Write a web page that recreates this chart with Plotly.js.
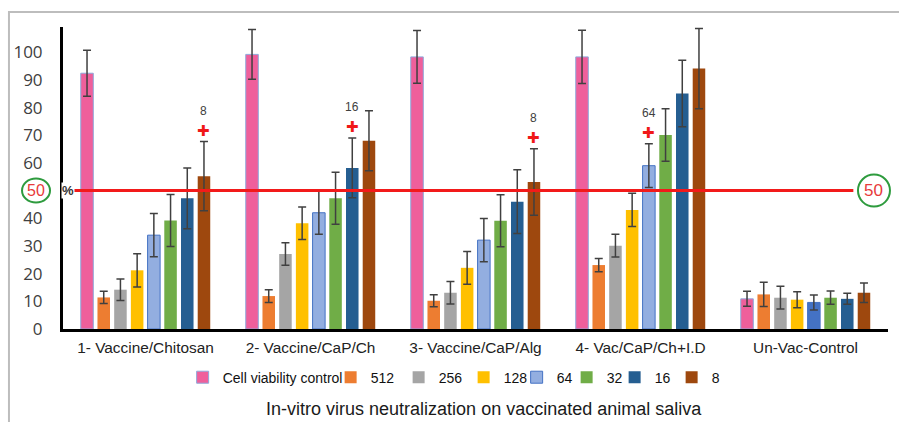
<!DOCTYPE html>
<html>
<head>
<meta charset="utf-8">
<script src="https://cdn.plot.ly/plotly-3.0.1.min.js"></script>
<style>html,body{margin:0;padding:0;background:#fff;}#chart{width:899px;height:422px;}</style>
</head>
<body>
<div id="chart"></div>
<script>
// ---- data ----
var groups = ['1- Vaccine/Chitosan', '2- Vaccine/CaP/Ch', '3- Vaccine/CaP/Alg', '4- Vac/CaP/Ch+I.D', 'Un-Vac-Control'];
var seriesNames = ['Cell viability control', '512', '256', '128', '64', '32', '16', '8'];

var cellViability = [92.4, 99.2, 98.3, 98.3, 10.9];
var cellViabilityErr = [8.3, 9.0, 9.5, 9.6, 2.7];
var dil512 = [11.4, 11.9, 10.2, 23.1, 12.5];
var dil512Err = [2.2, 2.3, 2.2, 2.4, 4.4];
var dil256 = [14.2, 27.1, 13.1, 30.1, 11.3];
var dil256Err = [3.9, 4.1, 4.1, 4.1, 4.1];
var dil128 = [21.2, 38.2, 22.1, 43.0, 10.6];
var dil128Err = [6.0, 5.9, 5.9, 6.0, 2.9];
var dil64 = [33.9, 42.0, 32.1, 59.0, 9.6];
var dil64Err = [7.8, 7.8, 7.8, 7.9, 2.7];
var dil32 = [39.2, 47.2, 39.1, 70.1, 11.3];
var dil32Err = [9.4, 9.4, 9.4, 9.5, 2.4];
var dil16 = [47.2, 58.2, 46.0, 85.1, 10.9];
var dil16Err = [11.0, 10.8, 11.5, 12.0, 2.0];
var dil8 = [55.2, 68.0, 53.1, 94.1, 13.1];
var dil8Err = [12.5, 10.8, 12.0, 14.5, 3.5];

// 50% end-point markers: group index, series index, label
var markGroup = [0, 1, 2, 3];
var markSeries = [7, 6, 7, 4];
var markLabel = ['8', '16', '8', '64'];

var cutoff = 50;
// y tick labels (50 is replaced by the circled cut-off label)
var yTicks = [0, 10, 20, 30, 40, 60, 70, 80, 90, 100];

// ---- style ----
var values = [cellViability, dil512, dil256, dil128, dil64, dil32, dil16, dil8];
var errs = [cellViabilityErr, dil512Err, dil256Err, dil128Err, dil64Err, dil32Err, dil16Err, dil8Err];
var colors = ['#EF5F9B', '#ED7D31', '#A5A5A5', '#FFC000', ['#93AEE0', '#93AEE0', '#93AEE0', '#93AEE0', '#4472C4'], '#70AD47', '#255E91', '#9E480E'];
var lineColors = ['#8EA9DB', null, null, null, '#4472C4', null, null, null];
var legendWidths = [103, 23, 20, 8, 5, 3, 12, 10];
var sans = '"Liberation Sans", Arial, sans-serif';
var bargap = 0.19;

var traces = seriesNames.map(function (name, i) {
  return {
    type: 'bar',
    name: name,
    x: groups,
    y: values[i],
    marker: {
      color: colors[i],
      line: { color: lineColors[i] || 'rgba(0,0,0,0)', width: lineColors[i] ? 1 : 0 }
    },
    error_y: { type: 'data', array: errs[i], visible: true, color: '#404040', thickness: 1.5, width: 4 },
    legendwidth: legendWidths[i],
    hoverinfo: 'x+y+name'
  };
});

var nS = seriesNames.length;
var annotations = [];
markGroup.forEach(function (g, k) {
  var s = markSeries[k];
  var xpos = g + (s - (nS - 1) / 2) * (1 - bargap) / nS;
  var top = values[s][g] + errs[s][g];
  annotations.push({ x: xpos, y: top, xref: 'x', yref: 'y', xanchor: 'center', text: '✚', showarrow: false,
    yshift: 11, font: { family: 'DejaVu Sans', size: 15, color: '#F01818' } });
  annotations.push({ x: xpos, y: top, xref: 'x', yref: 'y', xanchor: 'center', text: markLabel[k], showarrow: false,
    yshift: 31, font: { family: sans, size: 12, color: '#404040' } });
});
annotations.push({ x: -0.0327, y: cutoff, xref: 'paper', yref: 'y', xanchor: 'center', yanchor: 'middle',
  text: String(cutoff), showarrow: false, font: { family: sans, size: 16, color: '#E83A3A' } });
annotations.push({ x: 0.006, y: cutoff, xref: 'paper', yref: 'y', xanchor: 'center', yanchor: 'middle',
  text: '<b>%</b>', showarrow: false, bgcolor: '#ffffff', borderpad: 0,
  font: { family: sans, size: 13, color: '#333' } });
annotations.push({ x: 0.983, y: cutoff, xref: 'paper', yref: 'y', xanchor: 'center', yanchor: 'middle',
  text: String(cutoff), showarrow: false, font: { family: sans, size: 17, color: '#E83A3A' } });

var shapes = [
  { type: 'rect', xref: 'paper', yref: 'paper', x0: -0.0655, x1: 1.03, y0: -0.4, y1: 1.0498,
    line: { color: '#BDBDBD', width: 2 }, fillcolor: 'rgba(0,0,0,0)', layer: 'below' },
  { type: 'line', xref: 'paper', yref: 'y', x0: 0.013, x1: 0.958, y0: cutoff, y1: cutoff,
    line: { color: '#F21A1A', width: 3 }, layer: 'above' },
  { type: 'circle', xref: 'paper', yref: 'y', xsizemode: 'pixel', ysizemode: 'pixel',
    xanchor: -0.0327, yanchor: cutoff, x0: -14, x1: 14, y0: -12, y1: 12,
    line: { color: '#2E9B3E', width: 2 } },
  { type: 'circle', xref: 'paper', yref: 'y', xsizemode: 'pixel', ysizemode: 'pixel',
    xanchor: 0.983, yanchor: cutoff, x0: -16, x1: 16, y0: -16, y1: 16,
    line: { color: '#2E9B3E', width: 2 } }
];

var layout = {
  width: 899, height: 422,
  margin: { l: 63, r: 11, t: 27, b: 93 },
  paper_bgcolor: '#fff', plot_bgcolor: '#fff',
  barmode: 'group', bargap: bargap, bargroupgap: 0.25,
  showlegend: true,
  legend: { orientation: 'h', x: 0.145, xanchor: 'left', y: -0.108, yanchor: 'top',
    font: { family: sans, size: 14, color: '#111' }, bgcolor: 'rgba(0,0,0,0)', traceorder: 'normal' },
  title: { text: 'In-vitro virus neutralization on vaccinated animal saliva',
    xref: 'container', yref: 'container', x: 0.538, xanchor: 'center', y: 0.031, yanchor: 'middle',
    font: { family: sans, size: 18, color: '#1a1a1a' } },
  xaxis: {
    type: 'category', range: [-0.5, 4.5], showgrid: false, zeroline: false,
    showline: true, linecolor: '#000', linewidth: 3, ticks: '',
    ticklabelstandoff: 3,
    tickfont: { family: sans, size: 15.4, color: '#222' }
  },
  yaxis: {
    range: [0, 109.1], showgrid: false, zeroline: false,
    showline: true, linecolor: '#000', linewidth: 3, ticks: '',
    tickvals: yTicks, ticktext: yTicks.map(String), ticklabelstandoff: 14,
    tickfont: { family: 'Open Sans', size: 17, color: '#404040' }
  },
  annotations: annotations,
  shapes: shapes
};

Plotly.newPlot('chart', traces, layout, { displayModeBar: false, staticPlot: true });
</script>
</body>
</html>
